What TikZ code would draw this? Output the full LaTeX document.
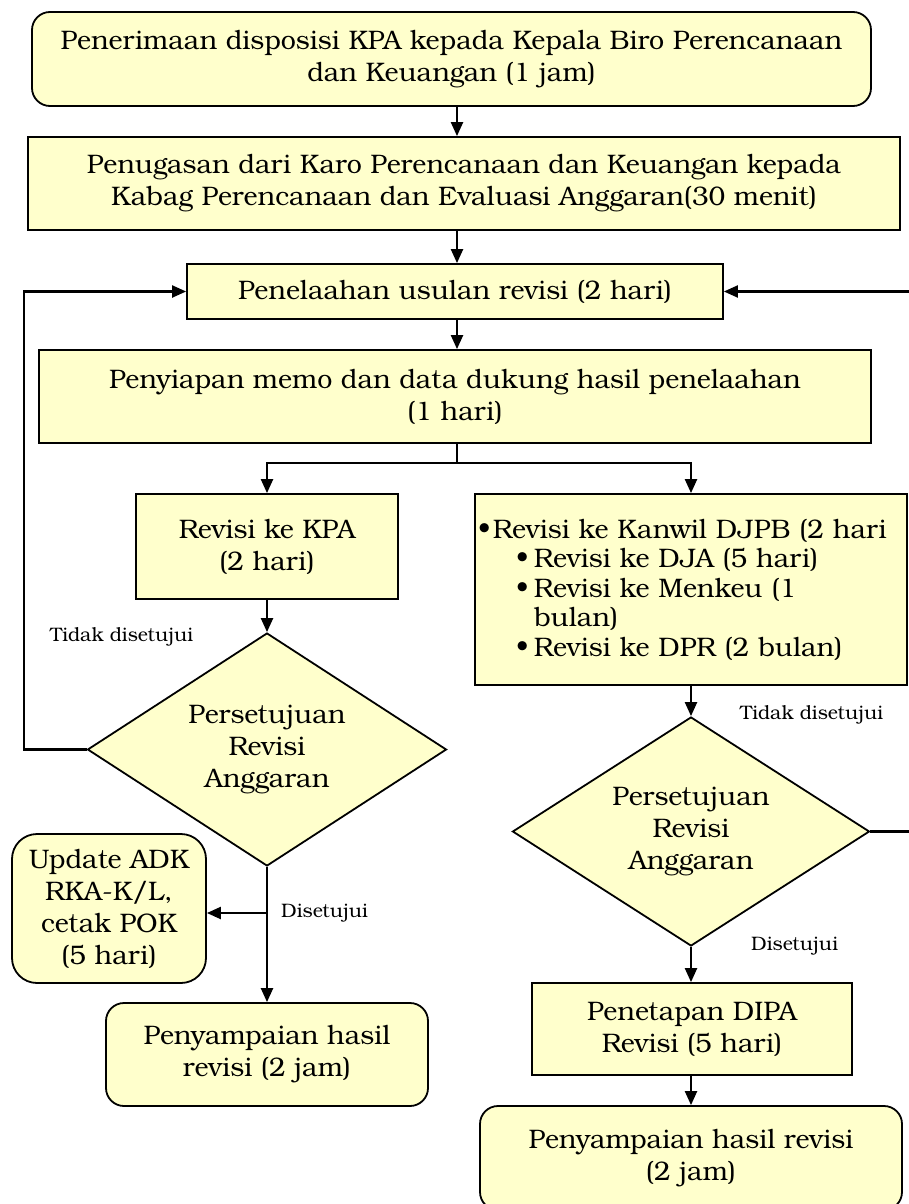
\documentclass[tikz,border=0pt]{standalone}
\usepackage{fontspec}
\setmainfont{TeX Gyre Bonum}
\usetikzlibrary{arrows.meta,shapes.geometric}
\definecolor{boxfill}{HTML}{FFFFCC}
\begin{document}
\begin{tikzpicture}[x=1pt,y=-1pt,
  box/.style={draw, line width=1.8pt, fill=boxfill, align=center, inner sep=0pt,
    font=\fontsize{26.8}{32}\selectfont},
  rbox/.style={box, rounded corners=18pt},
  dia/.style={box, shape=diamond, aspect=1.54},
  lbl/.style={font=\fontsize{19.5}{23}\selectfont, inner sep=0pt, anchor=west},
  arr/.style={line width=2.2pt, -{Triangle[length=14pt,width=12pt]}},
  ln/.style={line width=2.2pt}]
\useasboundingbox (0,0) rectangle (909,1204);

\node[rbox, minimum width=839pt, minimum height=94pt] (b1) at (451.5,59)
  {Penerimaan disposisi KPA kepada Kepala Biro Perencanaan\\dan Keuangan (1 jam)};
\node[box, minimum width=872pt, minimum height=93pt] (b2) at (464,183.5)
  {Penugasan dari Karo Perencanaan dan Keuangan kepada\\Kabag Perencanaan dan Evaluasi Anggaran(30 menit)};
\node[box, minimum width=536pt, minimum height=55pt] (b3) at (455,291.5)
  {Penelaahan usulan revisi (2 hari)};
\node[box, minimum width=832pt, minimum height=93pt] (b4) at (455,396.5)
  {Penyiapan memo dan data dukung hasil penelaahan\\(1 hari)};
\node[box, minimum width=262pt, minimum height=105pt] (b5) at (267,546.5)
  {Revisi ke KPA\\(2 hari)};
\node[box, minimum width=432pt, minimum height=191pt, text width=426pt, align=left,
  font=\fontsize{26.8}{29.5}\selectfont] (b6) at (691,589.5)
  {\makebox[15pt][l]{\textbullet}Revisi ke Kanwil DJPB (2 hari\\
   \hspace*{38pt}\makebox[18pt][l]{\textbullet}Revisi ke DJA (5 hari)\\
   \hspace*{38pt}\makebox[18pt][l]{\textbullet}Revisi ke Menkeu (1\\
   \hspace*{56pt}bulan)\\
   \hspace*{38pt}\makebox[18pt][l]{\textbullet}Revisi ke DPR (2 bulan)};
\node[dia, minimum width=359pt, minimum height=233pt] (d1) at (267,749.5)
  {Persetujuan\\Revisi\\Anggaran};
\node[dia, minimum width=357pt, minimum height=229pt] (d2) at (691,831.5)
  {Persetujuan\\Revisi\\Anggaran};
\node[box, rounded corners=25pt, minimum width=194pt, minimum height=149pt] (adk) at (109,908.5)
  {Update ADK\\RKA-K/L,\\cetak POK\\(5 hari)};
\node[rbox, minimum width=322pt, minimum height=103pt] (b7) at (267,1054.5)
  {Penyampaian hasil\\revisi (2 jam)};
\node[box, minimum width=320pt, minimum height=92pt] (b8) at (692,1029)
  {Penetapan DIPA\\Revisi (5 hari)};
\node[rbox, minimum width=422pt, minimum height=104pt] (b9) at (691,1158)
  {Penyampaian hasil revisi\\(2 jam)};

\node[lbl] (t1) at (50,637) {Tidak disetujui};
\node[lbl] (t2) at (281,913) {Disetujui};
\node[lbl] (t3) at (740,715) {Tidak disetujui};
\node[lbl] (t4) at (751,946) {Disetujui};

\coordinate (cx) at (457,0);
\coordinate (split) at (457,463);
\coordinate (lc) at (24,291.5);
\coordinate (rc) at (930,291.5);
\coordinate (br) at (267,913);

\draw[arr] (b1.south -| cx) -- (b2.north -| cx);
\draw[arr] (b2.south -| cx) -- (b3.north -| cx);
\draw[arr] (b3.south -| cx) -- (b4.north -| cx);
\draw[ln] (b4.south -| cx) -- (split);
\draw[arr] (split) -| (b5.north);
\draw[arr] (split) -| (b6.north);
\draw[arr] (b5.south) -- (d1.north);
\draw[arr] (b6.south) -- (d2.north);
\draw[arr] (d1.west) -| (lc) -- (b3.west);
\draw[arr] (d2.east) -| (rc) -- (b3.east);
\draw[arr] (d1.south) -- (b7.north);
\draw[arr] (br) -- (adk.east |- br);
\draw[arr] (d2.south) -- (b8.north -| d2.south);
\draw[arr] (b8.south -| b9.north) -- (b9.north);
\end{tikzpicture}
\end{document}
